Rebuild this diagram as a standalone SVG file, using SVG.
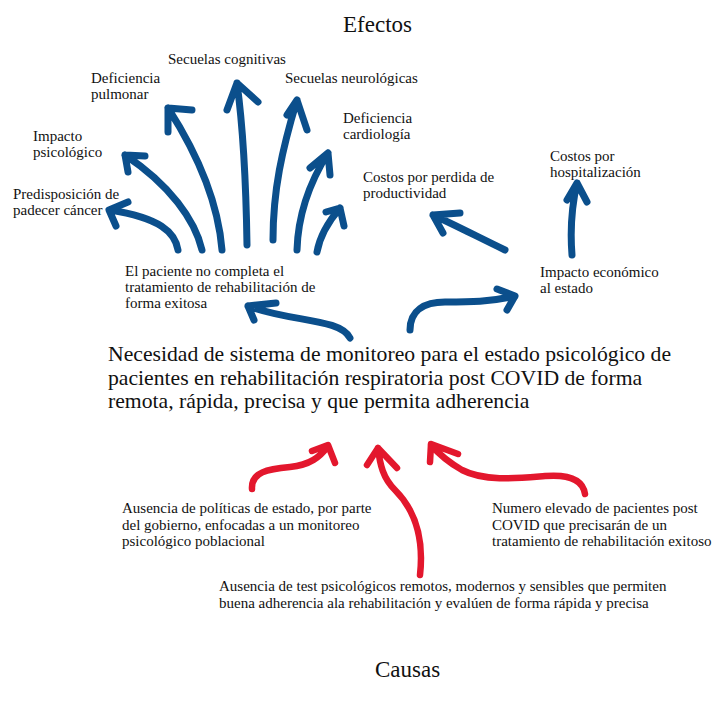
<svg xmlns="http://www.w3.org/2000/svg" width="722" height="702" viewBox="0 0 722 702">
<style>
text{font-family:"Liberation Serif","Times New Roman",serif;fill:#111;font-size:15px}
.title{font-size:23px}
.main{font-size:21.7px}
.b{fill:none;stroke:#0b4f8c;stroke-width:7;stroke-linecap:round;stroke-linejoin:round}
.r{fill:none;stroke:#e3172d;stroke-width:6.5;stroke-linecap:round;stroke-linejoin:round}
</style>
<rect width="722" height="702" fill="#fff"/>
<g id="connectors">
  <path class="b" d="M178,250 C175,232 160,218 110,210 M128,202 L109,210 L116,226"/>
  <path class="b" d="M202,250 C195,220 170,185 125,155 M145,156 L125,155 L128,172"/>
  <path class="b" d="M222,250 C218,200 195,150 168,108 M192,110 L168,108 L168,132"/>
  <path class="b" d="M247,245 C246,180 242,120 237,83 M227,110 L237,83 L258,102"/>
  <path class="b" d="M273,240 C273,190 282,150 297,100 M287,115 L297,100 L307,130"/>
  <path class="b" d="M297,250 C298,215 308,185 328,153 M310,168 L328,153 L330,175"/>
  <path class="b" d="M317,252 C320,235 328,222 340,208 M326,212 L340,208 L344,226"/>
  <path class="b" d="M350,338 C340,318 290,322 248,306 M276,303 L248,306 L254,320"/>
  <path class="b" d="M410,330 C410,310 425,302 445,302 C470,302 490,302 515,296 M497,289 L515,296 L507,310"/>
  <path class="b" d="M505,250 C480,238 455,225 433,215 M460,213 L433,215 L443,233"/>
  <path class="b" d="M572,255 C570,230 572,205 577,183 M567,200 L577,183 L587,202"/>
  <path class="r" d="M252,489 C251,472 268,469 290,467 C310,465 320,457 328,446 M312,451 L328,445 L335,463"/>
  <path class="r" d="M420,575 C425,530 410,505 395,490 C383,478 380,465 378,448 M367,465 L378,448 L397,468"/>
  <path class="r" d="M585,494 C583,480 570,474 545,476 C520,478 485,482 462,470 C448,462 438,453 431,445 M430,462 L431,444 L458,454"/>
</g>
<g id="efectos"><text class="title" x="343" y="32">Efectos</text></g>
<g id="causas"><text class="title" x="375" y="677">Causas</text></g>
<g id="secuelas-cognitivas"><text x="168" y="64">Secuelas cognitivas</text></g>
<g id="deficiencia-pulmonar"><text x="91" y="83">Deficiencia</text><text x="91" y="99">pulmonar</text></g>
<g id="secuelas-neurologicas"><text x="285" y="83">Secuelas neurológicas</text></g>
<g id="deficiencia-cardiologia"><text x="343" y="123">Deficiencia</text><text x="343" y="139">cardiología</text></g>
<g id="impacto-psicologico"><text x="33" y="141">Impacto</text><text x="33" y="157">psicológico</text></g>
<g id="predisposicion"><text x="13" y="199">Predisposición de</text><text x="13" y="215">padecer cáncer</text></g>
<g id="costos-productividad"><text x="363" y="182">Costos por perdida de</text><text x="363" y="198">productividad</text></g>
<g id="costos-hospitalizacion"><text x="550" y="161">Costos por</text><text x="550" y="177">hospitalización</text></g>
<g id="paciente-no-completa"><text x="125" y="276">El paciente no completa el</text><text x="125" y="292">tratamiento de rehabilitación de</text><text x="125" y="308">forma exitosa</text></g>
<g id="impacto-economico"><text x="540" y="277">Impacto económico</text><text x="540" y="293">al estado</text></g>
<g id="problema-central">
  <text class="main" x="108" y="361">Necesidad de sistema de monitoreo para el estado psicológico de</text>
  <text class="main" x="108" y="384.5">pacientes en rehabilitación respiratoria post COVID de forma</text>
  <text class="main" x="108" y="408">remota, rápida, precisa y que permita adherencia</text>
</g>
<g id="ausencia-politicas"><text x="122" y="513">Ausencia de políticas de estado, por parte</text><text x="122" y="530">del gobierno, enfocadas a un monitoreo</text><text x="122" y="546">psicológico poblacional</text></g>
<g id="numero-elevado"><text x="492" y="513">Numero elevado de pacientes post</text><text x="492" y="530">COVID que precisarán de un</text><text x="492" y="546">tratamiento de rehabilitación exitoso</text></g>
<g id="ausencia-test"><text x="219" y="591">Ausencia de test psicológicos remotos, modernos y sensibles que permiten</text><text x="219" y="608">buena adherencia ala rehabilitación y evalúen de forma rápida y precisa</text></g>
</svg>
